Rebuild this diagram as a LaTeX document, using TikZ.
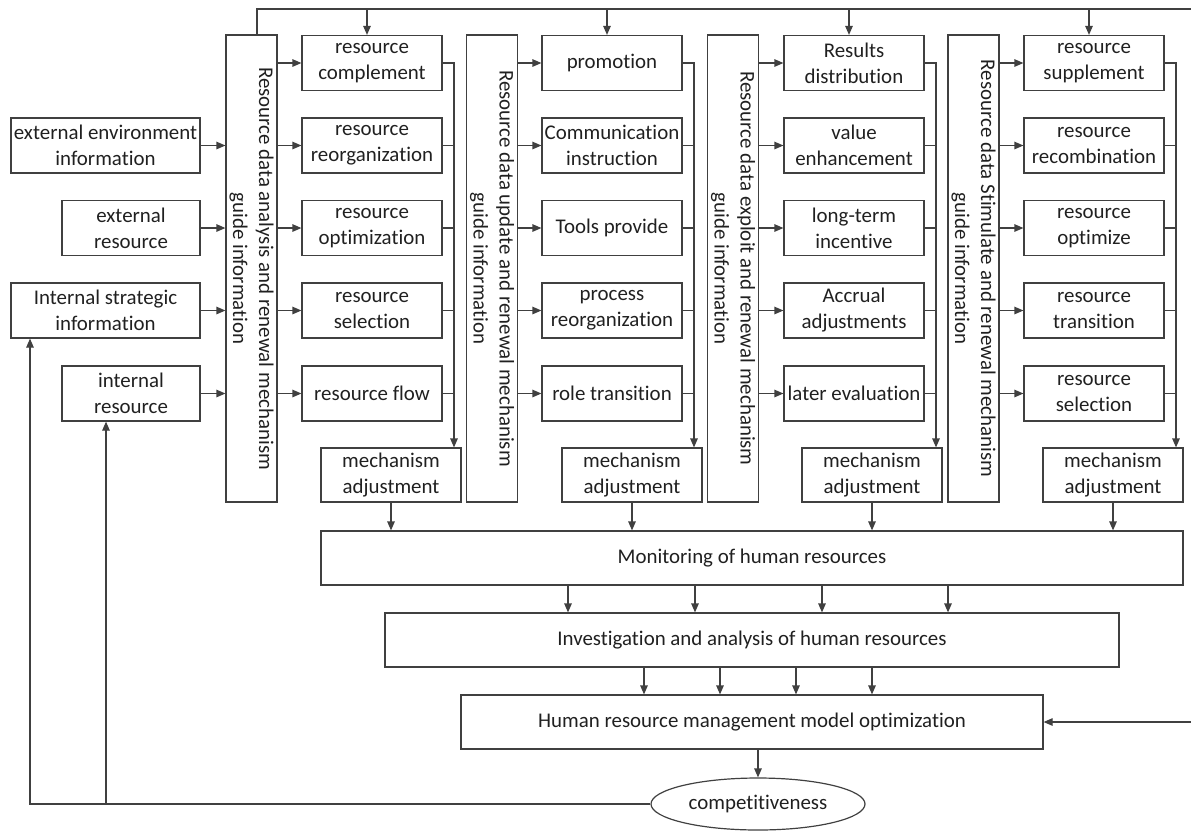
\documentclass[tikz,border=0pt]{standalone}
\usepackage{fontspec}
\setmainfont{Carlito}[Ligatures={NoCommon}]
\usetikzlibrary{arrows.meta,shapes.geometric,calc}
\definecolor{lc}{HTML}{404040}
\definecolor{tc}{HTML}{202020}
\begin{document}
\begin{tikzpicture}[x=1pt,y=-1pt,
  ln/.style={draw=lc, line width=1.2pt},
  arr/.style={ln, -{Triangle[length=9pt,width=7.5pt]}},
  txt/.style={text=tc, font=\fontsize{20.9}{26}\selectfont, align=center},
  bx/.style={txt, draw=lc, line width=1.2pt, minimum width=140pt, minimum height=55pt, inner sep=0pt},
  vbx/.style={draw=lc, line width=1.2pt, minimum width=51pt, minimum height=467pt, inner sep=0pt},
  vtxt/.style={txt, rotate=-90, inner sep=0pt},
  wide/.style={bx, minimum height=54pt}
]
\useasboundingbox (0,0) rectangle (1191,831);

% input boxes
\node[bx, minimum width=189pt] (in1) at (105.5,145.5) {external environment\\information};
\node[bx, minimum width=138pt] (in2) at (131,228) {external\\resource};
\node[bx, minimum width=189pt] (in3) at (105.5,310.5) {Internal strategic\\information};
\node[bx, minimum width=138pt] (in4) at (131,393.5) {internal\\resource};

% vertical boxes
\node[vbx] (v1) at (251.5,268.5) {};
\node[vbx] (v2) at (492,268.5) {};
\node[vbx] (v3) at (733,268.5) {};
\node[vbx] (v4) at (973.5,268.5) {};
\node[vtxt] at (v1.center) {Resource data analysis and renewal mechanism\\guide information};
\node[vtxt] at (v2.center) {Resource data update and renewal mechanism\\guide information};
\node[vtxt] at (v3.center) {Resource data exploit and renewal mechanism\\guide information};
\node[vtxt] at (v4.center) {Resource data Stimulate and renewal mechanism\\guide information};

% column 1
\node[bx] (c1r1) at (372,63) {resource\\complement};
\node[bx] (c1r2) at (372,145.5) {resource\\reorganization};
\node[bx] (c1r3) at (372,228) {resource\\optimization};
\node[bx] (c1r4) at (372,310.5) {resource\\selection};
\node[bx] (c1r5) at (372,393.5) {resource flow};
% column 2
\node[bx] (c2r1) at (612,63) {promotion};
\node[bx] (c2r2) at (612,145.5) {Communication\\instruction};
\node[bx] (c2r3) at (612,228) {Tools provide};
\node[bx] (c2r4) at (612,310.5) {process\\reorganization};
\node[bx] (c2r5) at (612,393.5) {role transition};
% column 3
\node[bx] (c3r1) at (854,63) {Results\\distribution};
\node[bx] (c3r2) at (854,145.5) {value\\enhancement};
\node[bx] (c3r3) at (854,228) {long-term\\incentive};
\node[bx] (c3r4) at (854,310.5) {Accrual\\adjustments};
\node[bx] (c3r5) at (854,393.5) {later evaluation};
% column 4
\node[bx] (c4r1) at (1094,63) {resource\\supplement};
\node[bx] (c4r2) at (1094,145.5) {resource\\recombination};
\node[bx] (c4r3) at (1094,228) {resource\\optimize};
\node[bx] (c4r4) at (1094,310.5) {resource\\transition};
\node[bx] (c4r5) at (1094,393.5) {resource\\selection};

% mechanism adjustment boxes
\node[bx, minimum height=54pt] (m1) at (391,475) {mechanism\\adjustment};
\node[bx, minimum height=54pt] (m2) at (632,475) {mechanism\\adjustment};
\node[bx, minimum height=54pt] (m3) at (872,475) {mechanism\\adjustment};
\node[bx, minimum height=54pt] (m4) at (1113,475) {mechanism\\adjustment};

% bottom boxes
\node[wide, minimum width=862pt] (mon) at (752,558) {Monitoring of human resources};
\node[wide, minimum width=734pt] (inv) at (752,640) {Investigation and analysis of human resources};
\node[wide, minimum width=582pt] (hrm) at (752,722) {Human resource management model optimization};
\node[txt, draw=lc, line width=1.2pt, ellipse, minimum width=214pt, minimum height=52pt, inner sep=0pt] (ell) at (758,804) {competitiveness};

% coordinates
\coordinate (bus1) at (454,0);
\coordinate (bus2) at (694,0);
\coordinate (bus3) at (936,0);
\coordinate (bus4) at (1176,0);
\coordinate (tl) at (257,9);
\coordinate (tr) at (1191,9);
\coordinate (re) at (1191,722);
\coordinate (fb1) at (30,804);
\coordinate (fb2) at (106,804);

% inputs to v1
\foreach \k in {1,...,4} {
  \draw[arr] (in\k.east) -- (in\k.east -| v1.west);
}

% top line
\draw[ln] (v1.north -| tl) -- (tl) -- (tr);

\foreach \ci in {1,...,4} {
  \draw[arr] ($(c\ci r1.north)+(-5,-26)$) -- ($(c\ci r1.north)+(-5,0)$);
  \foreach \ri in {1,...,5} {
    \draw[arr] (c\ci r\ri.west -| v\ci.east) -- (c\ci r\ri.west);
  }
  \foreach \ri in {2,...,5} {
    \draw[ln] (c\ci r\ri.east) -- (c\ci r\ri.east -| bus\ci);
  }
  \draw[arr] (c\ci r1.east) -| (m\ci.north -| bus\ci);
  \draw[arr] (m\ci.south) -- (m\ci.south |- mon.north);
}

\foreach \x in {568,695,822,948} {
  \draw[arr] (\x,0 |- mon.south) -- (\x,0 |- inv.north);
}
\foreach \x in {644,720,796,872} {
  \draw[arr] (\x,0 |- inv.south) -- (\x,0 |- hrm.north);
}
\draw[arr] (hrm.south -| ell.north) -- (ell.north);
\draw[arr] (re) -- (hrm.east);
\draw[arr] (ell.west) -- (fb1) -- (in3.south -| fb1);
\draw[arr] (fb2) -- (in4.south -| fb2);
\end{tikzpicture}
\end{document}
